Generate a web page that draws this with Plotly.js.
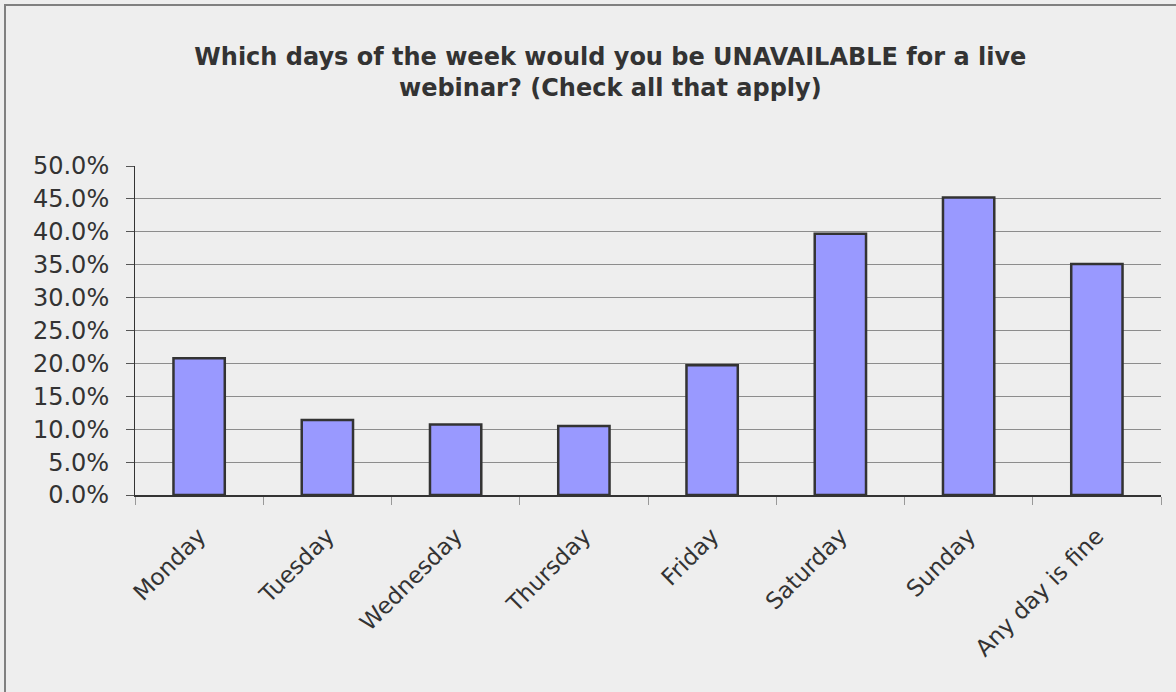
<!DOCTYPE html>
<html>
<head>
<meta charset="utf-8">
<script src="https://cdn.plot.ly/plotly-3.0.1.min.js"></script>
<style>
  html, body { margin: 0; padding: 0; background: #eeeeee; }
  #wrap { position: relative; width: 1176px; height: 692px; }
  #chart { position: absolute; left: 0; top: 0; width: 1176px; height: 692px; }
  #frame { position: absolute; left: 4px; top: 4px; width: 1172px; height: 688px;
           border-left: 2px solid #808080; border-top: 2px solid #808080; pointer-events: none; box-sizing: border-box; }
</style>
</head>
<body>
<div id="wrap">
  <div id="chart"></div>
  <div id="frame"></div>
</div>
<script>
const categories = ["Monday", "Tuesday", "Wednesday", "Thursday", "Friday", "Saturday", "Sunday", "Any day is fine"];
const shares = [0.208, 0.114, 0.107, 0.105, 0.197, 0.397, 0.452, 0.351];
const yTickValues = [0, 0.05, 0.10, 0.15, 0.20, 0.25, 0.30, 0.35, 0.40, 0.45, 0.50];
const chartTitle = "Which days of the week would you be UNAVAILABLE for a live<br>webinar? (Check all that apply)";

const trace = {
  type: "bar",
  x: categories,
  y: shares,
  marker: { color: "#9999ff", line: { color: "#333333", width: 2.5 } },
  hoverinfo: "x+y"
};

const layout = {
  width: 1176,
  height: 692,
  paper_bgcolor: "#eeeeee",
  plot_bgcolor: "#eeeeee",
  margin: { l: 135, r: 15, t: 166, b: 197 },
  bargap: 0.6,
  showlegend: false,
  font: { family: "DejaVu Sans, Verdana, sans-serif", color: "#333333" },
  title: {
    text: chartTitle,
    font: { family: "DejaVu Sans, Verdana, sans-serif", size: 24, color: "#333333", weight: "bold" },
    x: 0.519, xref: "container", xanchor: "center",
    y: 1 - 65 / 692, yref: "container", yanchor: "top"
  },
  xaxis: {
    type: "category",
    showgrid: false,
    showline: true, linecolor: "#333333", linewidth: 1.5,
    ticks: "outside", tickson: "boundaries", ticklen: 8, tickcolor: "#999999", tickwidth: 1,
    tickangle: -45,
    ticklabelstandoff: 17,
    tickfont: { size: 23, color: "#333333" }
  },
  yaxis: {
    range: [0, 0.5],
    tickvals: yTickValues,
    tickformat: ".1%",
    showgrid: true, gridcolor: "#8c8c8c", gridwidth: 1,
    zeroline: false,
    showline: true, linecolor: "#333333", linewidth: 1,
    ticks: "outside", ticklen: 8, tickcolor: "#555555", tickwidth: 1,
    ticklabelstandoff: 12,
    tickfont: { size: 24, color: "#333333" }
  }
};

Plotly.newPlot("chart", [trace], layout, { displayModeBar: false, staticPlot: true });
</script>
</body>
</html>
